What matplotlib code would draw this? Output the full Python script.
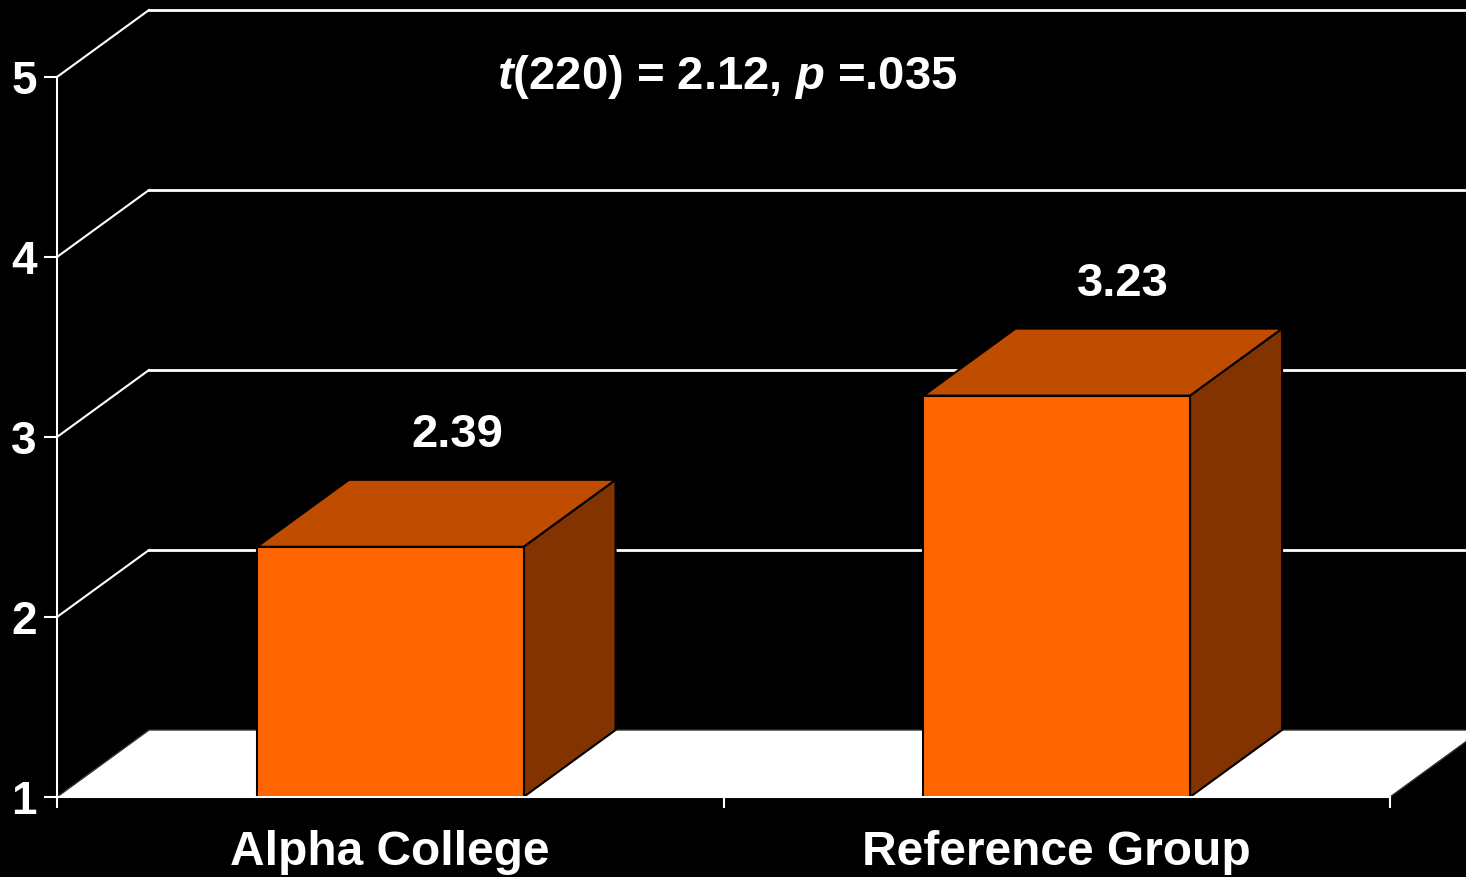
import matplotlib
matplotlib.use("Agg")
import matplotlib.pyplot as plt

categories = ["Alpha College", "Reference Group"]
values = [2.39, 3.23]
value_labels = ["2.39", "3.23"]
yticks = [1, 2, 3, 4, 5]
title_text = r"$\mathit{t}$(220) = 2.12, $\mathit{p}$ =.035"

plt.rcParams['font.family'] = ['Liberation Sans', 'DejaVu Sans']
plt.rcParams['font.weight'] = 'bold'
plt.rcParams['mathtext.fontset'] = 'custom'
plt.rcParams['mathtext.it'] = 'Liberation Sans:bold:italic'
plt.rcParams['mathtext.rm'] = 'Liberation Sans:bold'
plt.rcParams['mathtext.bf'] = 'Liberation Sans:bold'

W, H = 1466, 877
fig = plt.figure(figsize=(W / 100, H / 100), dpi=100, facecolor='black')
ax = fig.add_axes([57 / W, 80 / H, 1333 / W, 720 / H])
ax.set_facecolor('none')
ax.set_xlim(0, 2)
ax.set_ylim(1, 5)

# depth offsets in data units
DX = 92 / 1333 * 2
DY = 67 / 180
bar_w = 0.4
front_c = '#FF6600'
top_c = '#C04C00'
side_c = '#823300'

# floor
ax.fill([0, 2, 2 + DX, DX], [1, 1, 1 + DY, 1 + DY], facecolor='white',
        edgecolor='#333333', lw=1, clip_on=False, zorder=1)
# back wall gridlines and left wall diagonals
for y in yticks:
    if y > 1:
        ax.plot([DX, 2 + DX + 0.2], [y + DY, y + DY], color='white', lw=2,
                clip_on=False, zorder=1.5)
        ax.plot([0, DX], [y, y + DY], color='white', lw=1.5,
                clip_on=False, zorder=1.5)

# bars
for i, v in enumerate(values):
    c = i + 0.5
    x0, x1 = c - bar_w / 2, c + bar_w / 2
    ax.fill([x1, x1 + DX, x1 + DX, x1], [1, 1 + DY, v + DY, v],
            facecolor=side_c, edgecolor='black', lw=1.5, clip_on=False, zorder=3)
    ax.fill([x0, x1, x1 + DX, x0 + DX], [v, v, v + DY, v + DY],
            facecolor=top_c, edgecolor='black', lw=1.5, clip_on=False, zorder=3)
    ax.fill([x0, x1, x1, x0], [1, 1, v, v],
            facecolor=front_c, edgecolor='black', lw=1.5, clip_on=False, zorder=4)
    ax.text(c + 0.1, v + DY + 0.25, value_labels[i], color='white',
            fontsize=34, fontweight='bold', ha='center', va='center', zorder=5,
            bbox=dict(facecolor='black', edgecolor='none', pad=1))

# axes styling
for s in ['top', 'right']:
    ax.spines[s].set_visible(False)
ax.spines['left'].set_color('white')
ax.spines['left'].set_linewidth(1.5)
ax.spines['bottom'].set_color('white')
ax.spines['bottom'].set_linewidth(1.5)
ax.spines['bottom'].set_zorder(5)

ax.set_yticks(yticks)
ax.set_yticklabels([str(t) for t in yticks])
ax.tick_params(axis='y', colors='white', length=9.5, width=1.5, pad=5,
               labelsize=33)
ax.set_xticks([0, 1, 2])
ax.set_xticklabels(['', '', ''])
ax.tick_params(axis='x', which='major', colors='white', length=8, width=1.5)
ax.set_xticks([0.5, 1.5], minor=True)
ax.set_xticklabels(categories, minor=True)
ax.tick_params(axis='x', which='minor', length=0, pad=24, labelsize=34.5,
               labelcolor='white')
for lab in ax.get_xticklabels(minor=True) + ax.get_yticklabels():
    lab.set_fontweight('bold')

ax.text(1.005, 5.0, title_text, color='white', fontsize=34, ha='center',
        va='center', zorder=5)

fig.savefig('out.png', dpi=100, facecolor='black')
